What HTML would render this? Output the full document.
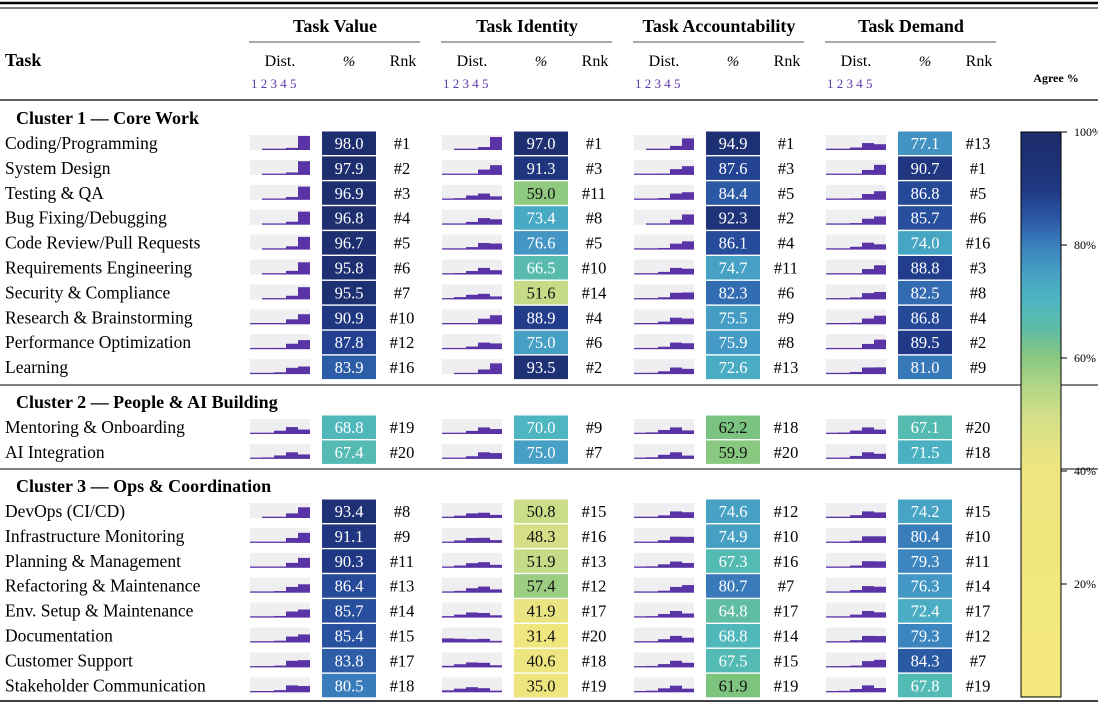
<!DOCTYPE html>
<html><head><meta charset="utf-8"><style>
html,body{margin:0;padding:0;background:#fff;}
svg{display:block;font-family:"Liberation Serif",serif;}
</style></head><body>
<svg id="chart" width="1098" height="703" viewBox="0 0 1098 703">
<defs><linearGradient id="cbg" x1="0" y1="1" x2="0" y2="0"></linearGradient></defs>
<g id="hdr">
<line x1="0" y1="3" x2="1098" y2="3" stroke="#000" stroke-width="2.5"/>
<line x1="0" y1="8" x2="1098" y2="8" stroke="#000" stroke-width="1"/>
<text x="5" y="66" font-size="18" font-weight="bold">Task</text>
<text x="1056" y="82" font-size="12" font-weight="bold" text-anchor="middle">Agree %</text>
<line x1="0" y1="100" x2="1098" y2="100" stroke="#000" stroke-width="1.2"/>
</g>
<g id="body"></g>
<g id="cbar"></g>
</svg>
<script>
const groups = ["Task Value","Task Identity","Task Accountability","Task Demand"];
const clusters = ["Cluster 1 — Core Work","Cluster 2 — People & AI Building","Cluster 3 — Ops & Coordination"];
const clusterSizes = [10,2,8];
const tasks = ["Coding/Programming","System Design","Testing & QA","Bug Fixing/Debugging","Code Review/Pull Requests","Requirements Engineering","Security & Compliance","Research & Brainstorming","Performance Optimization","Learning","Mentoring & Onboarding","AI Integration","DevOps (CI/CD)","Infrastructure Monitoring","Planning & Management","Refactoring & Maintenance","Env. Setup & Maintenance","Documentation","Customer Support","Stakeholder Communication"];
const valuePct = [98.0,97.9,96.9,96.8,96.7,95.8,95.5,90.9,87.8,83.9,68.8,67.4,93.4,91.1,90.3,86.4,85.7,85.4,83.8,80.5];
const valueRank = [1,2,3,4,5,6,7,10,12,16,19,20,8,9,11,13,14,15,17,18];
const identityPct = [97.0,91.3,59.0,73.4,76.6,66.5,51.6,88.9,75.0,93.5,70.0,75.0,50.8,48.3,51.9,57.4,41.9,31.4,40.6,35.0];
const identityRank = [1,3,11,8,5,10,14,4,6,2,9,7,15,16,13,12,17,20,18,19];
const accountPct = [94.9,87.6,84.4,92.3,86.1,74.7,82.3,75.5,75.9,72.6,62.2,59.9,74.6,74.9,67.3,80.7,64.8,68.8,67.5,61.9];
const accountRank = [1,3,5,2,4,11,6,9,8,13,18,20,12,10,16,7,17,14,15,19];
const demandPct = [77.1,90.7,86.8,85.7,74.0,88.8,82.5,86.8,89.5,81.0,67.1,71.5,74.2,80.4,79.3,76.3,72.4,79.3,84.3,67.8];
const demandRank = [13,1,5,6,16,3,8,4,2,9,20,18,15,10,11,14,17,12,7,19];
const valueDist = ["0,1,1,13,85","0,1,1,15,83","0,1,2,17,80","0,1,2,18,79","0,1,2,20,77","0,1,3,22,74","0,1,3,22,74","1,2,6,30,61","1,3,8,33,55","1,4,11,38,46","3,8,20,42,27","3,9,21,40,27","0,2,5,28,65","1,2,6,30,61","1,2,7,30,60","1,3,10,35,51","1,3,10,37,49","1,3,11,36,49","1,4,11,40,44","2,5,13,42,38"];
const identityDist = ["0,1,2,18,79","1,2,6,32,59","5,10,26,38,21","3,7,17,40,33","2,6,15,40,37","4,9,21,40,26","6,14,28,34,18","1,3,7,34,55","2,7,16,40,35","0,2,5,28,65","3,8,19,40,30","2,7,16,40,35","7,14,28,32,19","7,15,30,31,17","6,14,28,34,18","5,11,27,37,20","9,18,31,28,14","25,23,20,22,10","10,19,30,28,13","12,22,31,25,10"];
const accountDist = ["0,1,4,25,70","1,3,8,35,53","1,4,11,38,46","0,2,6,30,62","1,3,10,36,50","2,7,16,40,35","1,4,13,40,42","2,7,16,40,35","2,7,15,40,36","3,8,17,40,32","4,10,24,40,22","5,10,25,40,20","2,7,16,40,35","2,7,16,38,37","3,9,21,38,29","2,5,12,35,46","4,9,22,40,25","3,8,20,40,29","3,9,20,40,28","4,10,24,40,22"];
const demandDist = ["2,6,15,42,35","1,2,6,30,61","1,3,9,35,52","1,3,10,36,50","2,7,17,42,32","1,3,7,33,56","1,4,12,38,45","1,3,9,35,52","1,2,7,32,58","1,5,13,40,41","3,9,21,40,27","3,8,18,40,31","2,7,17,40,34","2,5,13,40,40","2,5,14,40,39","2,6,16,40,36","3,7,18,40,32","2,5,14,40,39","1,4,11,38,46","3,9,20,42,26"];
const colorTicks = [100,80,60,40,20];

const pcts=[valuePct,identityPct,accountPct,demandPct];
const ranks=[valueRank,identityRank,accountRank,demandRank];
const dists=[valueDist,identityDist,accountDist,demandDist];
const NS="http://www.w3.org/2000/svg";
function mk(tag,attrs,parent,txt){const e=document.createElementNS(NS,tag);for(const k in attrs)e.setAttribute(k,attrs[k]);if(txt!==undefined)e.textContent=txt;parent.appendChild(e);return e;}
const stops=[[0,"#f5e87c"],[40,"#ede57f"],[45,"#e3e285"],[50,"#d0de88"],[55,"#b2d686"],[58,"#95cc80"],[62,"#7cc47f"],[65,"#5fbca4"],[67,"#55bbb1"],[70,"#4db6c0"],[73,"#49abc4"],[76,"#4499c4"],[78,"#408ec3"],[80,"#3a80bd"],[82,"#3470b3"],[84,"#2c5ca6"],[86,"#274d9c"],[88,"#22408f"],[90,"#203884"],[93,"#1e3176"],[100,"#1c2d6c"]];
function hex(c){return [1,3,5].map(i=>parseInt(c.substr(i,2),16));}
function cmap(v){for(let i=1;i<stops.length;i++){if(v<=stops[i][0]){const[a,ca]=stops[i-1],[b,cb]=stops[i];const t=(v-a)/(b-a);const A=hex(ca),B=hex(cb);return "rgb("+A.map((x,j)=>Math.round(x+(B[j]-x)*t)).join(",")+")";}}return stops[stops.length-1][1];}

const hdr=document.getElementById('hdr');
const gx0=249, gstep=192;
groups.forEach((g,gi)=>{
  const x=gx0+gi*gstep;
  let e=mk('text',{x:x+86,y:32,'font-size':18,'font-weight':'bold','text-anchor':'middle'},hdr,g);
  
  
  mk('line',{x1:x,y1:42,x2:x+171,y2:42,stroke:'#555','stroke-width':1},hdr);
  e=mk('text',{x:x+31,y:66,'font-size':16,'text-anchor':'middle'},hdr,'Dist.');
  
  
  e=mk('text',{x:x+100,y:66,'font-size':15,'text-anchor':'middle','font-style':'italic'},hdr,'%');
  
  
  e=mk('text',{x:x+154,y:66,'font-size':16,'text-anchor':'middle'},hdr,'Rnk');
  
  
  e=mk('text',{x:x+2,y:88,'font-size':13,fill:'#5b3aa8'},hdr,'1 2 3 4 5');
  
  
});

const body=document.getElementById('body');
const clusterHeadY=[118,402,486], firstRowY=[143,427,511], sepY=[385,469];
let ri=0;
clusters.forEach((c,ci)=>{
  let e=mk('text',{x:16,y:clusterHeadY[ci]+6,'font-size':18,'font-weight':'bold'},body,c);
  
  
  if(ci<2) mk('line',{x1:0,y1:sepY[ci],x2:1098,y2:sepY[ci],stroke:'#000','stroke-width':1},body);
  for(let k=0;k<clusterSizes[ci];k++,ri++){
    const cy=firstRowY[ci]+k*24.9;
    const row=mk('g',{},body);
    
    
    e=mk('text',{x:5,y:cy+6,'font-size':17.5},row,tasks[ri]);
    
    
    for(let gi=0;gi<4;gi++){
      const x=gx0+1+gi*gstep;
      const box=mk('rect',{x:x,y:cy-8,width:60,height:15,fill:'#efeff1'},row);
      
      
      const d=dists[gi][ri].split(',').map(Number);
      d.forEach((s,bi)=>{
        if(s<=0) return;
        const h=Math.max(1.3,s*0.165);
        const b=mk('rect',{x:x+bi*12,y:cy+7-h,width:12,height:h,fill:'#5a33a6'},row);
        
        
      });
      const v=pcts[gi][ri];
      const cell=mk('rect',{x:x+72,y:cy-11.5,width:54,height:23.5,fill:cmap(v)},row);
      
      
      e=mk('text',{x:x+99,y:cy+6,'font-size':16.5,'text-anchor':'middle',fill:v>=63?'#fff':'#111'},row,v.toFixed(1));
      
      
      e=mk('text',{x:x+152,y:cy+6,'font-size':16.5,'text-anchor':'middle'},row,'#'+ranks[gi][ri]);
      
      
    }
  }
});
mk('line',{x1:0,y1:701,x2:1098,y2:701,stroke:'#000','stroke-width':1.5},body);

// colorbar
const grad=document.getElementById('cbg');
for(let v=0;v<=100;v+=5){mk('stop',{offset:(v/100),'stop-color':cmap(v)},grad);}
const cb=document.getElementById('cbar');
const cbTop=132, cbBot=697;
function cbY(v){return cbTop+(100-v)*(cbBot-cbTop)/100;}
mk('rect',{x:1021,y:cbTop,width:40,height:cbBot-cbTop,fill:'url(#cbg)',stroke:'#000','stroke-width':1},cb);
colorTicks.forEach(t=>{
  const y=cbY(t);
  mk('line',{x1:1061,y1:y,x2:1067,y2:y,stroke:'#000','stroke-width':1},cb);
  const e=mk('text',{x:1074,y:y+4,'font-size':12},cb,t+'%');
  
  
});
</script>
</body></html>
